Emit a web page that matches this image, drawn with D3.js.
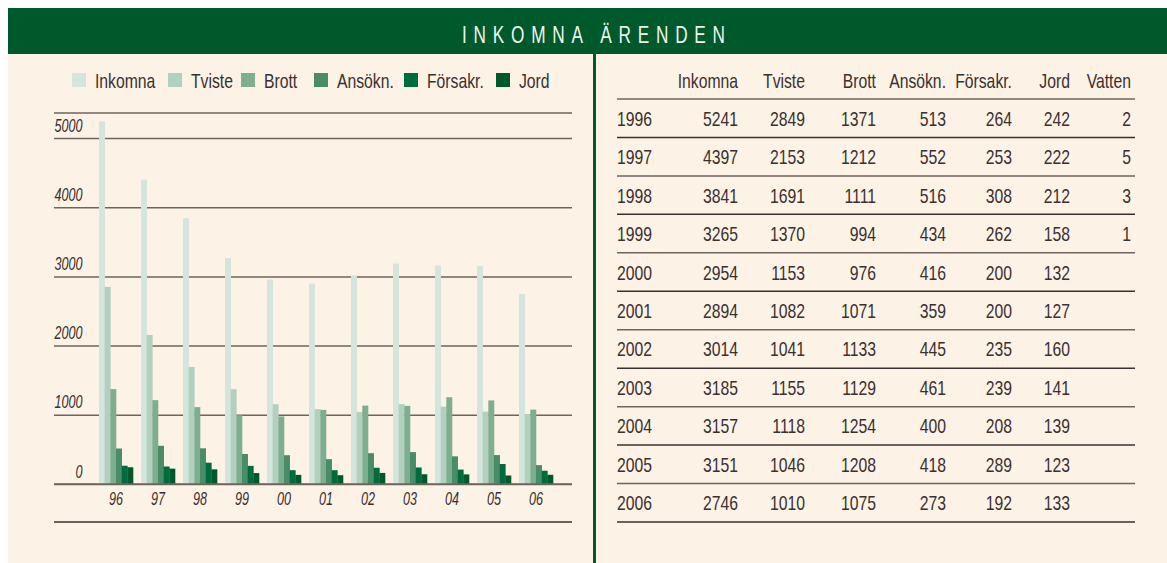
<!DOCTYPE html>
<html>
<head>
<meta charset="utf-8">
<script src="https://cdn.jsdelivr.net/npm/d3@7"></script>
<style>
  body { margin: 0; background: #fff; }
  text { font-family: "Liberation Sans", Arial, sans-serif; }
</style>
</head>
<body>
<svg id="chart" width="1167" height="563"></svg>
<script>
// data
var years = [1996, 1997, 1998, 1999, 2000, 2001, 2002, 2003, 2004, 2005, 2006];
var yearTicks = ["96", "97", "98", "99", "00", "01", "02", "03", "04", "05", "06"];
var seriesNames = ["Inkomna", "Tviste", "Brott", "Ansökn.", "Försakr.", "Jord"];
var tableCols = ["Inkomna", "Tviste", "Brott", "Ansökn.", "Försakr.", "Jord", "Vatten"];
var inkomna = [5241, 4397, 3841, 3265, 2954, 2894, 3014, 3185, 3157, 3151, 2746];
var tviste  = [2849, 2153, 1691, 1370, 1153, 1082, 1041, 1155, 1118, 1046, 1010];
var brott   = [1371, 1212, 1111, 994, 976, 1071, 1133, 1129, 1254, 1208, 1075];
var ansokn  = [513, 552, 516, 434, 416, 359, 445, 461, 400, 418, 273];
var forsakr = [264, 253, 308, 262, 200, 200, 235, 239, 208, 289, 192];
var jord    = [242, 222, 212, 158, 132, 127, 160, 141, 139, 123, 133];
var vatten  = [2, 5, 3, 1, null, null, null, null, null, null, null];
var yTicks = [0, 1000, 2000, 3000, 4000, 5000];
var colors = ["#d3e5dc", "#b3d0bf", "#7dae8f", "#4a8c68", "#006b3c", "#00592a"];

var chartSeries = [inkomna, tviste, brott, ansokn, forsakr, jord];
var tableSeries = [inkomna, tviste, brott, ansokn, forsakr, jord, vatten];

var svg = d3.select("#chart");
var dark = "#3a3030";
var grey = "#6f645e";
var green = "#00592a";
var SX = 0.75; // condensed look: squeeze text horizontally

// text helper, squeezed horizontally
function ctext(parent, x, y, str, size, anchor) {
    return parent.append("text")
        .attr("transform", "translate(" + x + "," + y + ") scale(" + SX + ",1)")
        .attr("text-anchor", anchor || "start")
        .style("font-size", size + "px")
        .style("fill", dark)
        .text(str);
}

// frame
svg.append("rect").attr("x", 8).attr("y", 8).attr("width", 1159).attr("height", 46).attr("fill", green);
svg.append("rect").attr("x", 8).attr("y", 54).attr("width", 1159).attr("height", 509).attr("fill", "#fdf2e6");
svg.append("rect").attr("x", 593).attr("y", 54).attr("width", 3).attr("height", 509).attr("fill", green);

ctext(svg, 462, 43, "INKOMNA ÄRENDEN", 23)
    .style("letter-spacing", "9px")
    .style("fill", "#eef4ee");

// legend
var legendX = [72, 168, 241, 314, 404, 496];
var legend = svg.append("g");
seriesNames.forEach(function(name, i) {
    legend.append("rect")
        .attr("x", legendX[i]).attr("y", 73)
        .attr("width", 14).attr("height", 14)
        .attr("fill", colors[i]);
    ctext(legend, legendX[i] + 23, 88, name, 21);
});
svg.append("line").attr("x1", 54).attr("x2", 572).attr("y1", 113).attr("y2", 113)
    .style("stroke", grey).style("stroke-width", 1.5);

// scales
var y = d3.scaleLinear().domain([0, 5000]).range([484, 138]);
var x0 = d3.scaleBand().domain(years).range([99, 553]).paddingInner(0.19).paddingOuter(0);
var x1 = d3.scaleBand().domain(d3.range(seriesNames.length)).range([0, x0.bandwidth()]);

// gridlines + tick labels
var yAxis = d3.axisLeft(y).tickValues(yTicks).tickSize(-518).tickFormat(d3.format("d"));
var gy = svg.append("g").attr("transform", "translate(54,0)").call(yAxis);
gy.select(".domain").remove();
gy.selectAll(".tick line").style("stroke", grey).style("stroke-width", 1.5);
gy.selectAll(".tick text")
    .attr("x", 28.5 / 0.7).attr("dy", "-0.38em")
    .attr("transform", "scale(0.7,1)")
    .attr("text-anchor", "end")
    .style("font-family", "'Liberation Sans', sans-serif")
    .style("font-style", "italic")
    .style("font-size", "18px")
    .style("fill", dark);

// bars
var groups = svg.append("g").selectAll("g")
    .data(years)
    .join("g")
    .attr("transform", function(d) { return "translate(" + x0(d) + ",0)"; });

groups.selectAll("rect")
    .data(function(d, i) { return chartSeries.map(function(s, k) { return { k: k, v: s[i] }; }); })
    .join("rect")
    .attr("x", function(d) { return x1(d.k); })
    .attr("width", x1.bandwidth() + 0.3)
    .attr("y", function(d) { return y(d.v); })
    .attr("height", function(d) { return y(0) - y(d.v); })
    .attr("fill", function(d) { return colors[d.k]; });

// baseline drawn over bars
svg.append("line").attr("x1", 54).attr("x2", 572).attr("y1", y(0)).attr("y2", y(0))
    .style("stroke", grey).style("stroke-width", 1.5);

// x labels
var xAxis = d3.axisBottom(x0).tickSize(0).tickFormat(function(d, i) { return yearTicks[i]; });
var gx = svg.append("g").attr("transform", "translate(0," + y(0) + ")").call(xAxis);
gx.select(".domain").remove();
gx.selectAll(".tick text")
    .attr("dy", "1.0em")
    .attr("transform", "scale(0.7,1)")
    .style("font-family", "'Liberation Sans', sans-serif")
    .style("font-style", "italic")
    .style("font-size", "18px")
    .style("fill", dark);

svg.append("line").attr("x1", 54).attr("x2", 572).attr("y1", 522).attr("y2", 522)
    .style("stroke", dark).style("stroke-width", 1.5);

// table
var colRight = [738, 805, 876, 946, 1012, 1070, 1131];
var rowY = d3.scaleBand().domain(years).range([99, 522]);
var table = svg.append("g");

tableCols.forEach(function(c, j) {
    ctext(table, colRight[j], 88, c, 21, "end");
});
table.append("line").attr("x1", 617).attr("x2", 1135).attr("y1", 99).attr("y2", 99)
    .style("stroke", grey).style("stroke-width", 1.5);

years.forEach(function(yr, i) {
    var base = rowY(yr) + rowY.bandwidth() / 2 + 7.5;
    ctext(table, 617, base, yr, 21);
    tableSeries.forEach(function(s, j) {
        if (s[i] == null) return;
        ctext(table, colRight[j], base, s[i], 21, "end");
    });
    table.append("line").attr("x1", 617).attr("x2", 1135)
        .attr("y1", rowY(yr) + rowY.bandwidth()).attr("y2", rowY(yr) + rowY.bandwidth())
        .style("stroke", i % 2 ? grey : dark).style("stroke-width", 1.5);
});
</script>
</body>
</html>
